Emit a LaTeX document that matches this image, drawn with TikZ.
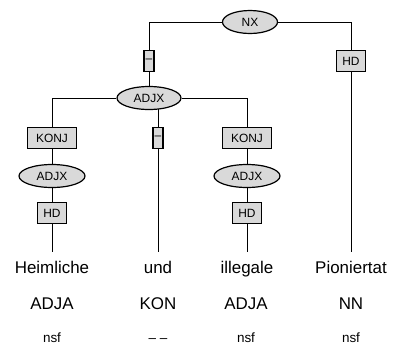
\documentclass[tikz,border=0pt]{standalone}
\usepackage{fontspec}
\setmainfont{Liberation Sans}
\usetikzlibrary{backgrounds,shapes.geometric}
\definecolor{boxgray}{RGB}{217,217,217}
\tikzset{
  cat/.style={ellipse,draw,fill=boxgray,inner sep=0pt,
    minimum height=23bp,font=\fontsize{12}{12}\selectfont},
  lab/.style={rectangle,draw,fill=boxgray,inner sep=0pt,
    minimum height=21bp,font=\fontsize{12}{12}\selectfont},
  word/.style={anchor=base,inner xsep=0pt,inner ysep=7bp,text height=13bp,
    font=\fontsize{17}{17}\selectfont},
  tagtext/.style={anchor=base,inner sep=0pt,font=\fontsize{17}{17}\selectfont},
  morph/.style={anchor=base,inner sep=0pt,font=\fontsize{13.5}{13.5}\selectfont}
}
\begin{document}
\begin{tikzpicture}[x=1bp,y=-1bp,line width=1.2bp]
  \useasboundingbox (0,0) rectangle (394,349);
  % categories
  \node[cat,minimum width=55bp] (nx) at (250,22) {NX};
  \node[cat,minimum width=64bp] (adjx) at (149,98) {ADJX};
  \node[cat,minimum width=66bp] (adjxa) at (52,176) {ADJX};
  \node[cat,minimum width=66bp] (adjxb) at (247,176) {ADJX};
  % edge labels
  \node[lab,minimum width=10bp] (da) at (149,61) {–};
  \node[lab,minimum width=29bp] (hdn) at (351,61) {HD};
  \node[lab,minimum width=49bp] (konja) at (52,138) {KONJ};
  \node[lab,minimum width=10bp] (db) at (158,138) {–};
  \node[lab,minimum width=49bp] (konjb) at (247,138) {KONJ};
  \node[lab,minimum width=29bp] (hda) at (52,213) {HD};
  \node[lab,minimum width=29bp] (hdb) at (247,213) {HD};
  % words
  \node[word] (w1) at (52,273) {Heimliche};
  \node[word] (w2) at (158,273) {und};
  \node[word] (w3) at (247,273) {illegale};
  \node[word] (w4) at (351,273) {Pioniertat};
  \node[tagtext] (p1) at (52,309) {ADJA};
  \node[tagtext] (p2) at (158,309) {KON};
  \node[tagtext] (p3) at (246,309) {ADJA};
  \node[tagtext] (p4) at (351,309) {NN};
  \node[morph] (m1) at (52,342) {nsf};
  \node[morph] (m2) at (158,342) {– –};
  \node[morph] (m3) at (246,342) {nsf};
  \node[morph] (m4) at (351,342) {nsf};
  % connectors
  \begin{scope}[on background layer]
    \draw (nx) -| (da) -- (adjx);
    \draw (nx) -| (hdn) -- (w4.north);
    \draw (adjx) -| (konja) -- (adjxa) -- (hda) -- (w1.north);
    \draw (adjx) -| (konjb) -- (adjxb) -- (hdb) -- (w3.north);
    \draw (db |- adjx) -- (db) -- (w2.north);
  \end{scope}
\end{tikzpicture}
\end{document}
